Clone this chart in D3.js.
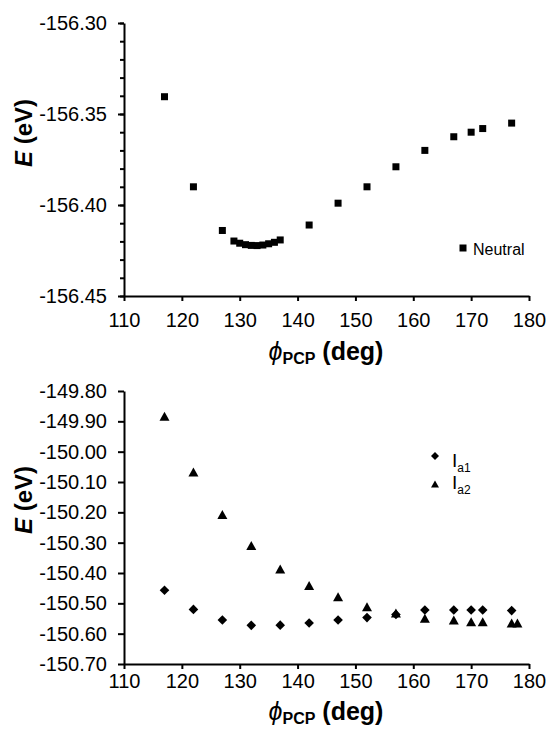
<!DOCTYPE html>
<html>
<head>
<meta charset="utf-8">
<script src="https://cdn.jsdelivr.net/npm/d3@7"></script>
<style>
  body { margin: 0; background: #fff; }
  text { font-family: Arial, "Liberation Sans", sans-serif; fill: #000; }
</style>
</head>
<body>
<script>
  // top panel: neutral molecule
  const neutralPhi = [117, 122, 127, 129, 130, 131, 132, 133, 134, 135, 136, 137, 142, 147, 152, 157, 162, 167, 170, 172, 177];
  const neutralE = [-156.3405, -156.390, -156.414, -156.4198, -156.421, -156.4218, -156.4222, -156.4223, -156.4220, -156.4213, -156.4205, -156.4192,
                    -156.411, -156.399, -156.390, -156.379, -156.370, -156.3625, -156.360, -156.358, -156.355];

  // bottom panel: ions
  const ia1Phi = [117, 122, 127, 132, 137, 142, 147, 152, 157, 162, 167, 170, 172, 177];
  const ia1E = [-150.457, -150.520, -150.555, -150.5725, -150.572, -150.565, -150.555, -150.547, -150.537, -150.522, -150.522, -150.522, -150.522, -150.524];
  const ia2Phi = [117, 122, 127, 132, 137, 142, 147, 152, 157, 162, 167, 170, 172, 177, 178];
  const ia2E = [-149.883, -150.067, -150.207, -150.309, -150.387, -150.441, -150.478, -150.511, -150.532, -150.549, -150.555, -150.561, -150.561, -150.565, -150.565];

  const xTicks = [110, 120, 130, 140, 150, 160, 170, 180];
  const yTicksTop = [-156.45, -156.40, -156.35, -156.30];
  const yMinorTop = d3.range(0, 16).map(i => -156.45 + i * 0.01);
  const yTicksBottom = [-150.70, -150.60, -150.50, -150.40, -150.30, -150.20, -150.10, -150.00, -149.90, -149.80];

  const W = 549, H = 730;
  const svg = d3.select("body").append("svg").attr("width", W).attr("height", H);

  const diamond = r => `M0,${-r}L${r},0L0,${r}L${-r},0Z`;
  const triangle = (w, h) => `M0,${-h / 2}L${w / 2},${h / 2}L${-w / 2},${h / 2}Z`;

  function panel(top, bottom, yDomain, yTicks, minor, xPad) {
    const x = d3.scaleLinear().domain([110, 180]).range([124, 529]);
    const y = d3.scaleLinear().domain(yDomain).range([bottom, top]);

    if (minor) {
      svg.append("g").attr("transform", "translate(124,0)")
        .call(d3.axisLeft(y).tickValues(minor).tickSize(4).tickFormat(""))
        .call(g => g.select(".domain").remove())
        .call(g => g.selectAll("line").attr("stroke-width", 2));
    }

    const ya = svg.append("g").attr("transform", "translate(124,0)")
      .call(d3.axisLeft(y).tickValues(yTicks).tickSize(6).tickPadding(11).tickFormat(d => d.toFixed(2)).tickSizeOuter(0));
    ya.selectAll("text").style("font-size", "20px");
    ya.select(".domain").attr("stroke-width", 2);
    ya.selectAll("line").attr("stroke-width", 2);

    const xa = svg.append("g").attr("transform", `translate(0,${bottom})`)
      .call(d3.axisBottom(x).tickValues(xTicks).tickSize(5).tickPadding(xPad).tickSizeOuter(0));
    xa.selectAll("text").style("font-size", "20px");
    xa.select(".domain").attr("stroke-width", 2);
    xa.selectAll("line").attr("stroke-width", 2);

    return { x, y };
  }

  function titles(yCenter, xBase) {
    const yt = svg.append("text")
      .attr("transform", `translate(23,${yCenter}) rotate(-90)`)
      .attr("text-anchor", "middle").attr("dominant-baseline", "central")
      .style("font-size", "24px").style("font-weight", "bold");
    yt.append("tspan").style("font-style", "italic").text("E");
    yt.append("tspan").text(" (eV)");

    const xt = svg.append("text").attr("x", 326).attr("y", xBase)
      .attr("text-anchor", "middle").style("font-size", "25px").style("font-weight", "bold");
    xt.append("tspan").style("font-style", "italic").style("font-weight", "normal").text("\u03D5");
    xt.append("tspan").attr("dy", 4).style("font-size", "16px").text("PCP");
    xt.append("tspan").attr("dy", -4).text(" (deg)");
  }

  // ---- top ----
  const t = panel(23, 296, [-156.45, -156.30], yTicksTop, yMinorTop, 12);
  svg.append("g").selectAll("rect")
    .data(neutralPhi)
    .join("rect")
    .attr("x", (d, i) => t.x(d) - 3.5)
    .attr("y", (d, i) => t.y(neutralE[i]) - 3.5)
    .attr("width", 7).attr("height", 7).attr("fill", "#000");
  titles(133, 360);

  svg.append("rect").attr("x", 459.5).attr("y", 244.5).attr("width", 7).attr("height", 7).attr("fill", "#000");
  svg.append("text").attr("x", 473).attr("y", 255).style("font-size", "16px").text("Neutral");

  // ---- bottom ----
  const b = panel(391, 664, [-150.70, -149.80], yTicksBottom, null, 5);
  svg.append("g").selectAll("path")
    .data(ia1Phi)
    .join("path")
    .attr("d", diamond(4.8))
    .attr("transform", (d, i) => `translate(${b.x(d)},${b.y(ia1E[i])})`)
    .attr("fill", "#000");
  svg.append("g").selectAll("path")
    .data(ia2Phi)
    .join("path")
    .attr("d", triangle(10, 9))
    .attr("transform", (d, i) => `translate(${b.x(d)},${b.y(ia2E[i])})`)
    .attr("fill", "#000");
  titles(500, 720);

  svg.append("path").attr("d", diamond(4)).attr("transform", "translate(435,456)").attr("fill", "#000");
  svg.append("path").attr("d", triangle(8, 7)).attr("transform", "translate(435,484)").attr("fill", "#000");
  const l1 = svg.append("text").attr("x", 452).attr("y", 467).style("font-size", "19px");
  l1.append("tspan").text("I");
  l1.append("tspan").attr("dy", 5).style("font-size", "12px").text("a1");
  const l2 = svg.append("text").attr("x", 452).attr("y", 489).style("font-size", "19px");
  l2.append("tspan").text("I");
  l2.append("tspan").attr("dy", 5).style("font-size", "12px").text("a2");
</script>
</body>
</html>
